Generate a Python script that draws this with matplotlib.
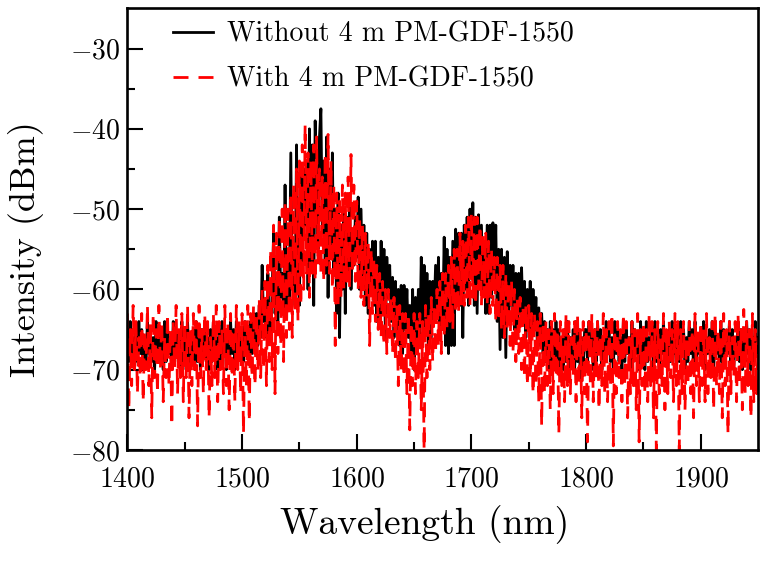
import numpy as np
import matplotlib; matplotlib.use("Agg")
import matplotlib.pyplot as plt

plt.rcParams["font.family"] = "serif"
plt.rcParams["font.serif"] = ["cmr10"]
plt.rcParams["mathtext.fontset"] = "cm"
plt.rcParams["axes.formatter.use_mathtext"] = True

# wavelength grid (nm), 1.25 nm sampling
wl = np.arange(1400, 1950.1, 1.25)

# spectrum without the 4 m PM-GDF-1550 (dBm), 40 points per 50 nm
without_gdf = [
    -65, -69, -64, -68, -66, -70, -65, -69, -64, -68, -65, -70, -66, -69, -64, -68, -65, -69, -66, -70,
    -64, -68, -65, -69, -66, -70, -64, -69, -65, -68, -66, -70, -64, -69, -65, -68, -66, -70, -64, -69,
    -65, -70, -64, -69, -66, -68, -65, -70, -64, -69, -66, -70, -65, -68, -64, -69, -66, -70, -65, -69,
    -64, -68, -66, -70, -65, -69, -64, -68, -65, -70, -66, -69, -64, -68, -65, -70, -64, -69, -66, -68,
    -65, -69, -64, -68, -65, -69, -64, -68, -63, -68, -63, -67, -62, -66, -57, -64, -63, -66, -58, -65,
    -66, -60, -53, -63, -60, -65, -51, -61, -58, -63, -47, -62, -56, -61, -43, -60, -55, -62, -42, -58,
    -62, -46, -58, -45, -52, -44, -60, -40, -57, -42, -62, -39, -48, -55, -41, -37.5, -53, -44, -58, -41,
    -61, -45, -56, -43, -58, -50, -63, -48, -66, -52, -60, -50, -63, -51, -58, -49, -60, -53, -57, -51,
    -56, -48.5, -60, -50, -60, -52, -62, -53, -63, -55, -60, -54, -62, -54, -64, -56, -64, -54, -63, -55,
    -66, -56, -61, -57, -64, -58.5, -66, -59, -65, -60, -67, -59.5, -68, -59.5, -65, -60, -66, -62, -68, -60,
    -70, -61, -66, -60, -67, -56, -64, -57, -65, -58, -68, -59, -66, -59, -63, -57, -63, -56, -66, -58,
    -64, -53.5, -67, -55, -68, -56, -67, -54, -67, -52.5, -62, -53, -62, -53, -66, -52, -60, -51, -62, -50,
    -58, -49.2, -62, -51, -63, -50.7, -60, -52, -60, -54, -63, -52, -63, -52, -61, -51.7, -60, -52, -64, -55,
    -67.5, -55, -66, -56, -68.5, -55.3, -64, -57, -62, -57, -65, -58, -65, -58, -63, -57.3, -64, -59, -66, -60,
    -65, -59, -66, -60, -65, -61, -67, -62.3, -67, -63, -68, -64, -69, -65, -70, -64, -69, -65, -70, -64,
    -69, -65, -71, -66, -70, -65, -69, -64, -70, -66, -69, -65, -70, -64, -69, -65, -71, -66, -70, -65,
    -65, -69, -64, -68, -66, -70, -65, -69, -64, -68, -65, -70, -66, -69, -64, -68, -65, -69, -66, -70,
    -64, -68, -65, -69, -66, -70, -64, -69, -65, -68, -66, -70, -64, -69, -65, -68, -66, -70, -64, -69,
    -65, -70, -64, -69, -66, -68, -65, -70, -64, -69, -66, -70, -65, -68, -64, -69, -66, -70, -65, -69,
    -64, -68, -66, -70, -65, -69, -64, -68, -65, -70, -66, -69, -64, -68, -65, -70, -64, -69, -66, -68,
    -65, -69, -64, -70, -66, -68, -65, -69, -64, -70, -65, -68, -66, -69, -64, -70, -65, -69, -66, -68,
    -64, -69, -65, -70, -66, -68, -64, -69, -65, -70, -66, -69, -64, -68, -65, -70, -66, -69, -64, -68,
    -66,
]

# spectrum with the 4 m PM-GDF-1550 (dBm), 40 points per 50 nm
with_gdf = [
    -63, -75, -65, -72, -62, -70, -64, -73, -66, -71, -63, -74, -65, -70, -62, -72, -64, -76, -63, -71,
    -65, -73, -62, -70, -64, -74, -66, -71, -63, -72, -65, -77, -64, -70, -62, -73, -65, -71, -63, -74,
    -64, -71, -62, -76, -65, -72, -63, -70, -64, -77, -62, -71, -65, -73, -63, -70, -64, -76, -66, -72,
    -63, -71, -62, -74, -64, -70, -65, -73, -62, -72, -64, -75, -63, -71, -65, -74, -62, -70, -64, -73,
    -63, -78, -64, -72, -62, -76.5, -63, -71, -62, -72, -63, -70, -61, -71, -60, -70, -59, -72, -57, -69,
    -55, -70, -52, -73, -53, -68, -51, -67, -50, -69, -49, -66, -50, -65, -48, -66, -47, -63, -45, -64,
    -44, -62, -42, -60, -39.5, -58, -43, -61, -44, -58, -42, -59, -41, -57, -45, -58, -46, -59, -43, -57,
    -40.7, -58, -44, -60, -47, -67, -48, -62, -49, -61, -47, -60, -48, -59, -46, -60, -43.2, -58, -47, -59,
    -49, -60, -51, -61, -52, -62, -53, -61, -54, -67, -55, -63, -56, -64, -57, -65, -58, -66, -59, -67,
    -60, -68, -60, -66, -61, -68, -61, -69, -62, -72, -62, -70, -63, -71, -63, -73, -63, -77.5, -64, -72,
    -63, -73, -64, -71, -63, -75, -64, -80, -62, -71, -63, -70, -61, -69, -62, -68, -60, -67, -59, -68,
    -58, -66, -58, -65, -57, -64, -56, -65, -55, -63, -55, -63, -53, -62, -54, -62, -52, -61, -51, -62,
    -50.5, -61, -51, -62, -51, -60, -52, -62, -53, -61, -53, -62, -54, -63, -55, -62, -56, -64, -56, -64,
    -57, -65, -57, -66, -58, -65, -59, -67, -59, -68, -60, -69, -61, -68, -61, -70, -62, -71, -62, -72,
    -62, -71, -63, -73, -63, -72, -64, -74, -63, -77, -64, -73, -64, -72, -65, -75, -64, -73, -63, -71,
    -65, -78, -64, -72, -65, -74, -63, -72, -64, -73, -66, -71, -64, -74, -63, -72, -65, -76, -64, -73,
    -65, -79, -64, -72, -63, -74, -65, -71, -64, -75, -66, -72, -63, -73, -65, -74, -64, -72, -63, -79.5,
    -65, -73, -64, -71, -65, -74, -63, -72, -64, -76, -66, -73, -64, -72, -65, -75, -63, -79, -65, -72,
    -64, -73, -65, -74, -63, -72, -64, -76, -65, -80, -64, -73, -66, -72, -63, -75, -65, -73, -64, -71,
    -65, -74, -63, -72, -64, -80, -65, -73, -64, -75, -66, -72, -64, -73, -65, -76, -63, -72, -65, -74,
    -64, -72, -65, -74, -63, -73, -66, -71, -64, -75, -63, -72, -65, -73, -64, -76, -63, -72, -65, -78,
    -64, -73, -66, -71, -64, -74, -63, -72, -65, -75, -62.5, -73, -64, -72, -65, -76, -63, -74, -65, -73,
    -66,
]

fig, ax = plt.subplots(figsize=(7.72, 5.61), dpi=100)
fig.subplots_adjust(left=0.165, right=0.982, bottom=0.198, top=0.985)

ax.plot(wl, without_gdf, color="black", linewidth=2.0, label="Without 4 m PM-GDF-1550")
ax.plot(wl, with_gdf, color="#ff0000", linewidth=2.0, linestyle=(0, (5.4, 3.6)),
        label="With 4 m PM-GDF-1550")

ax.set_xlim(1400, 1950)
ax.set_ylim(-80, -25)
ax.set_xticks([1400, 1500, 1600, 1700, 1800, 1900])
ax.set_xticks(np.arange(1450, 1950, 100), minor=True)
ax.set_yticks([-80, -70, -60, -50, -40, -30])
ax.set_yticks([-75, -65, -55, -45, -35], minor=True)

for s in ax.spines.values(): s.set_linewidth(1.9)
ax.tick_params(which="both", direction="in", width=1.5, labelsize=20)
ax.tick_params(which="major", length=11.5)
ax.tick_params(which="minor", length=5.5)
ax.tick_params(axis="x", pad=12)
ax.tick_params(axis="y", pad=5)

ax.set_xlabel("Wavelength (nm)", fontsize=27)
ax.set_ylabel("Intensity (dBm)", fontsize=26)
ax.xaxis.set_label_coords(0.472, -0.125)
ax.yaxis.set_label_coords(-0.132, 0.455)

ax.legend(loc="upper left", bbox_to_anchor=(0.033, 1.027), frameon=False, fontsize=20,
          handlelength=1.44, labelspacing=0.66, handletextpad=0.5)

plt.savefig("out.png", dpi=100, facecolor="white")
plt.close(fig)
